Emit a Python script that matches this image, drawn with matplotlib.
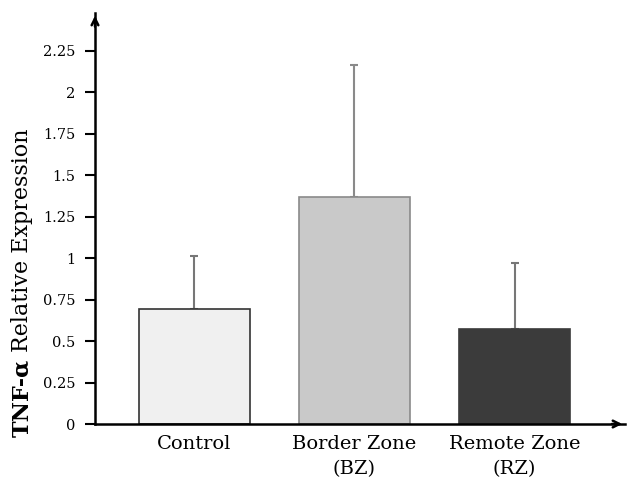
import matplotlib
matplotlib.use('Agg')
import matplotlib.pyplot as plt

categories = ['Control', 'Border Zone\n(BZ)', 'Remote Zone\n(RZ)']
means = [0.69, 1.37, 0.57]
errors = [0.32, 0.79, 0.40]
yticks = [0, 0.25, 0.5, 0.75, 1, 1.25, 1.5, 1.75, 2, 2.25]
ytick_labels = ['0', '0.25', '0.5', '0.75', '1', '1.25', '1.5', '1.75', '2', '2.25']
fills = ['#f0f0f0', '#c9c9c9', '#3b3b3b']
edges = ['#333333', '#8a8a8a', '#3b3b3b']
err_colors = ['#777777', '#8a8a8a', '#777777']

plt.rcParams['font.family'] = ['DejaVu Serif']

W, H = 629, 488
fig = plt.figure(figsize=(W / 100, H / 100), dpi=100)
ax = fig.add_axes([95 / W, (H - 424) / H, (625 - 95) / W, (424 - 13) / H])

x = list(range(len(categories)))
for i in x:
    ax.bar(i, means[i], width=0.69, color=fills[i], edgecolor=edges[i], linewidth=1.2, zorder=2)
    ax.errorbar(i, means[i], yerr=[[0], [errors[i]]], fmt='none', ecolor=err_colors[i],
                elinewidth=1.5, capsize=3, capthick=1.5, zorder=1)

ax.set_xlim(-0.62, 2.69)
ax.set_ylim(0, 2.476)
ax.set_yticks(yticks)
ax.set_yticklabels(ytick_labels, fontsize=10.5)
ax.set_xticks(x)
ax.set_xticklabels(categories, fontsize=14, linespacing=1.5)
ax.tick_params(axis='x', length=0, pad=8)
ax.tick_params(axis='y', direction='out', length=7, width=1.5, pad=7)

for s in ['top', 'right']:
    ax.spines[s].set_visible(False)
for s in ['left', 'bottom']:
    ax.spines[s].set_linewidth(1.8)

# arrow heads on the axes
ax.annotate('', xy=(0, 1.0), xycoords='axes fraction', xytext=(0, 0.96),
            arrowprops=dict(arrowstyle='->', lw=1.8, color='black', mutation_scale=12))
ax.annotate('', xy=(1.0, 0), xycoords='axes fraction', xytext=(0.97, 0),
            arrowprops=dict(arrowstyle='->', lw=1.8, color='black', mutation_scale=12))

# y label: bold TNF-α followed by normal text
t1 = fig.text(22 / W, 1 - 437 / H, 'TNF-α', rotation=90, fontsize=16, fontweight='bold',
              ha='center', va='bottom')
fig.canvas.draw()
bb = t1.get_window_extent()
fig.text(22 / W, (bb.y1 + 7) / H, 'Relative Expression', rotation=90, fontsize=16,
         ha='center', va='bottom')

fig.savefig('out.png', dpi=100)
